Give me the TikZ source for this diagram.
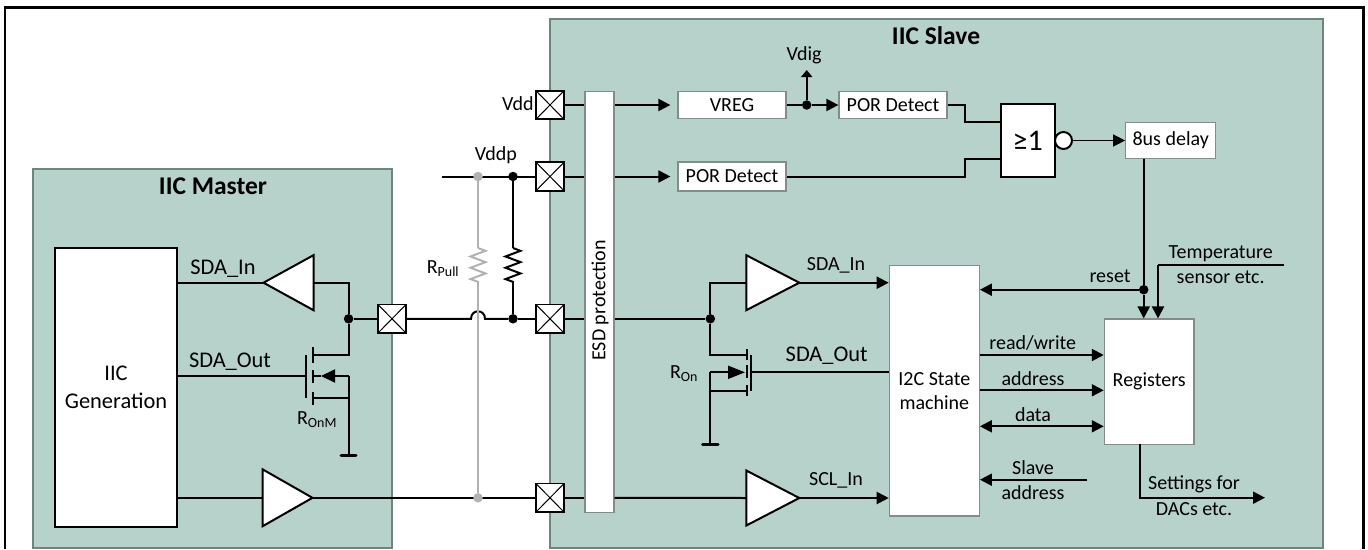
\documentclass[tikz,border=0pt]{standalone}
\usepackage{fontspec}
\setmainfont{Carlito}
\usetikzlibrary{
  arrows.meta,
  shapes.geometric,
  decorations.pathmorphing,
}
\definecolor{chipfill}{RGB}{183,210,202}
\definecolor{chipedge}{RGB}{112,132,126}
\definecolor{boxedge}{RGB}{130,140,137}
\definecolor{pullgrey}{RGB}{178,178,178}
\tikzset{
  wire/.style={line width=2pt, black},
  thinwire/.style={line width=1.6pt, black},
  sigarrow/.style={wire, -{Triangle[length=12pt,width=12pt]}},
  dualarrow/.style={wire, {Triangle[length=12pt,width=12pt]}-{Triangle[length=12pt,width=12pt]}},
  chipbox/.style={rectangle, draw=chipedge, fill=chipfill, line width=1.2pt, inner sep=0pt},
  whitebox/.style={rectangle, draw=boxedge, fill=white, line width=1.2pt, inner sep=0pt, align=center, font=\fontsize{20}{24}\selectfont},
  blackbox/.style={rectangle, draw=black, fill=white, line width=2pt, inner sep=0pt, align=center},
  padbox/.style={
    rectangle, draw=black, fill=white, line width=1.6pt,
    minimum width=28pt, minimum height=28.5pt, inner sep=0pt,
    path picture={
      \draw[line width=1pt]
        (path picture bounding box.north west) -- (path picture bounding box.south east)
        (path picture bounding box.north east) -- (path picture bounding box.south west);
    }
  },
  bufright/.style={
    isosceles triangle, isosceles triangle stretches, draw=black, fill=white,
    line width=2pt, inner sep=0pt, outer sep=0pt, anchor=apex,
    minimum height=53pt, minimum width=55pt
  },
  bufleft/.style={bufright, shape border rotate=180},
  joint/.style={circle, fill=black, inner sep=0pt, minimum size=9.5pt},
  greyjoint/.style={circle, fill=pullgrey, inner sep=0pt, minimum size=9.5pt},
  resistor/.style={decorate, decoration={zigzag, amplitude=7.5pt, segment length=11.3pt}},
  lab/.style={inner sep=0pt, font=\fontsize{20}{24}\selectfont, align=center},
  biglab/.style={inner sep=0pt, font=\fontsize{22.4}{27}\selectfont, align=center},
  titlelab/.style={inner sep=0pt, font=\bfseries\fontsize{25.5}{30}\selectfont},
}
\begin{document}
\begin{tikzpicture}[x=1pt, y=-1pt]
  \useasboundingbox (0,0) rectangle (1368,549);

  % ── Frame and panels ──
  \draw[line width=2.6pt] (5,549) -- (5,7.5) -- (1363.5,7.5) -- (1363.5,549);
  \node[chipbox, minimum width=359pt, minimum height=379pt] (master) at (212.5,358.5) {};
  \node[chipbox, minimum width=773pt, minimum height=529pt] (slave) at (936.5,283.5) {};
  \node[titlelab] (masterTitle) at (213,186) {IIC Master};
  \node[titlelab] (slaveTitle) at (936,36) {IIC Slave};

  % ── Master blocks ──
  \node[blackbox, minimum width=122pt, minimum height=279.5pt, biglab] (gen) at (116,387.3) {IIC\\[1pt]Generation};
  \node[bufleft, minimum height=50pt]  (bufMasterIn)  at (263.5,282.7) {};
  \node[bufright, minimum height=50pt, minimum width=57pt] (bufMasterClk) at (312.5,497.8) {};
  \node[joint] (jointMaster) at (348.6,318.8) {};

  % ── Pads ──
  \node[padbox] (padMaster) at (392,318.8) {};
  \node[padbox] (padVdd)    at (550,105) {};
  \node[padbox] (padVddp)   at (550,176.5) {};
  \node[padbox] (padSda)    at (550,318.8) {};
  \node[padbox] (padClk)    at (550,497.8) {};

  % ── Slave blocks ──
  \node[whitebox, minimum width=29pt, minimum height=421.5pt] (esd) at (599.5,302) {};
  \node[lab, rotate=90] (esdText) at (600,300.5) {ESD protection};
  \node[whitebox, minimum width=108pt, minimum height=27.5pt] (vreg) at (732,105) {VREG};
  \node[whitebox, minimum width=108pt, minimum height=27.5pt] (porA) at (893,105) {POR Detect};
  \node[whitebox, minimum width=108pt, minimum height=29pt]   (porB) at (732,176.5) {POR Detect};
  \node[blackbox, minimum width=54pt, minimum height=72.5pt, font=\fontsize{30}{36}\selectfont] (orGate) at (1027.7,140.5) {≥1};
  \node[circle, draw=black, fill=white, line width=2pt, minimum size=17pt, inner sep=0pt] (orBubble) at (1063.5,140.5) {};
  \node[whitebox, minimum width=90pt, minimum height=36.5pt] (delay) at (1170.7,140.5) {8us delay};
  \node[whitebox, minimum width=90pt, minimum height=250.7pt] (fsm) at (934.3,390.7) {I2C State\\machine};
  \node[whitebox, minimum width=89.7pt, minimum height=125.3pt] (regs) at (1149.2,381.7) {Registers};
  \node[bufright] (bufSlaveIn)  at (799.3,282.7) {};
  \node[bufright] (bufSlaveClk) at (799.3,498) {};
  \node[joint] (jointVreg)  at (806.7,105) {};
  \node[joint] (jointSlave) at (710.3,318.8) {};
  \node[joint] (jointReset) at (1143.7,289.7) {};
  \node[joint] (jointVddp)  at (513,176.5) {};
  \node[joint] (jointPull)  at (513,318.8) {};

  % ── Supply and pull-up ──
  \coordinate (vddpEnd) at (442,176.5);
  \coordinate (pullGreyA) at (478,248);
  \coordinate (pullGreyB) at (478,282);
  \coordinate (pullBlackA) at (513,248);
  \coordinate (pullBlackB) at (513,282);
  \coordinate (hopA) at (471,318.8);
  \coordinate (hopB) at (485,318.8);
  \coordinate (vdigEnd) at (806.7,70);
  \draw[wire] (vddpEnd) -- (padVddp);
  \draw[wire] (jointVddp) -- (pullBlackA);
  \draw[wire, resistor] (pullBlackA) -- (pullBlackB);
  \draw[wire] (pullBlackB) -- (jointPull);
  \draw[wire] (padMaster) -- (hopA) .. controls +(0,-10) and +(0,-10) .. (hopB) -- (jointPull);
  \draw[wire] (jointPull) -- (padSda);
  \draw[wire] (gen.east |- bufMasterClk.apex) -- (bufMasterClk.lower side);
  \draw[wire] (bufMasterClk.apex) -- (padClk);
  \node[greyjoint] (greyTop) at (478,176.5) {};
  \node[greyjoint] (greyBot) at (478,497.8) {};
  \draw[wire, pullgrey] (greyTop) -- (pullGreyA);
  \draw[wire, pullgrey, resistor] (pullGreyA) -- (pullGreyB);
  \draw[wire, pullgrey] (pullGreyB) -- (greyBot);

  % ── Master connections ──
  \coordinate (mDrain) at (313,355);
  \coordinate (mSource) at (313,376);
  \coordinate (mBody) at (313,398);
  \coordinate (mGate) at (306,376);
  \coordinate (mGnd) at (348.6,455);
  \coordinate (mTip) at (321,376);
  \draw[wire] (gen.east |- bufMasterIn.apex) -- (bufMasterIn.apex);
  \draw[wire] (bufMasterIn.lower side) -| (jointMaster);
  \draw[wire] (jointMaster) -- (padMaster);
  \draw[wire] (jointMaster) |- (mDrain);
  \draw[wire] (gen.east |- mGate) -- (mGate);
  \draw[wire] (306,355) -- (306,398);
  \draw[wire] (313,347) -- (313,363);
  \draw[wire] (313,370) -- (313,383);
  \draw[wire] (313,392) -- (313,405);
  \draw[wire] (mGnd) -- (mGnd |- mSource);
  \draw[wire, -{Triangle[length=14pt,width=13pt]}] (mGnd |- mSource) -- (mTip);
  \draw[wire] (mTip) -- (mSource);
  \draw[wire] (mGnd |- mBody) -- (mBody);
  \draw[line width=3pt, line cap=round] (341,455) -- (356,455);

  % ── Slave front end ──
  \coordinate (sDrain) at (746.7,355);
  \coordinate (sSource) at (745,372.3);
  \coordinate (sBody) at (746.7,390.7);
  \coordinate (sGate) at (751.3,372.3);
  \coordinate (sGnd) at (710.3,444.3);
  \draw[wire] (padVdd) -- (esd.west |- padVdd);
  \draw[wire] (padVddp) -- (esd.west |- padVddp);
  \draw[wire] (padSda) -- (esd.west |- padSda);
  \draw[wire] (padClk) -- (esd.west |- padClk);
  \draw[sigarrow, shorten >=7pt] (esd.east |- vreg) -- (vreg);
  \draw[sigarrow, shorten >=7pt] (esd.east |- porB) -- (porB);
  \draw[wire] (esd.east |- padSda) -- (jointSlave);
  \draw[wire] (jointSlave) |- (bufSlaveIn.lower side);
  \draw[wire] (jointSlave) |- (sDrain);
  \draw[wire] (esd.east |- padClk) -- (bufSlaveClk.lower side);
  \draw[wire] (746.7,349.3) -- (746.7,360);
  \draw[wire] (746.7,365) -- (746.7,378);
  \draw[wire] (746.7,385) -- (746.7,395.7);
  \draw[wire] (751.3,355) -- (751.3,390.7);
  \draw[wire] (fsm.west |- sGate) -- (sGate);
  \draw[wire] (sGnd) -- (sGnd |- sSource);
  \draw[wire, -{Triangle[length=17pt,width=13pt]}] (sGnd |- sSource) -- (sSource);
  \draw[wire] (sGnd |- sBody) -- (sBody);
  \draw[line width=3pt, line cap=round] (702.5,444.3) -- (718,444.3);
  \draw[sigarrow] (bufSlaveIn.apex) -- (fsm.west |- bufSlaveIn.apex);
  \draw[sigarrow] (bufSlaveClk.apex) -- (fsm.west |- bufSlaveClk.apex);

  % ── Power-on logic ──
  \coordinate (kneeA) at (965,122.3);
  \coordinate (kneeB) at (965,158.5);
  \draw[wire] (vreg) -- (jointVreg);
  \draw[sigarrow] (jointVreg) -- (porA);
  \draw[wire, -{Triangle[length=7pt,width=11pt]}] (jointVreg) -- (vdigEnd);
  \draw[wire] (porA.east) -| (kneeA) -- (orGate.west |- kneeA);
  \draw[wire] (porB.east) -| (kneeB) -- (orGate.west |- kneeB);
  \draw[thinwire, -{Triangle[length=12pt,width=12pt]}] (orBubble) -- (delay);

  % ── Register side ──
  \coordinate (tempEnd) at (1284,265.3);
  \coordinate (tempKnee) at (1158,265.3);
  \coordinate (slaveEnd) at (1087.3,479.7);
  \coordinate (settingsEnd) at (1265,497.7);
  \coordinate (settingsTop) at (1140,444.3);
  \draw[wire] (delay.south -| jointReset) -- (jointReset);
  \draw[sigarrow] (jointReset) -- (jointReset |- regs.north);
  \draw[sigarrow] (jointReset) -- (fsm.east |- jointReset);
  \draw[wire] (tempEnd) -- (tempKnee);
  \draw[sigarrow] (tempKnee) -- (tempKnee |- regs.north);
  \draw[sigarrow] (fsm.east |- 0,355) -- (regs.west |- 0,355);
  \draw[sigarrow] (fsm.east |- 0,390.3) -- (regs.west |- 0,390.3);
  \draw[dualarrow] (fsm.east |- 0,426.3) -- (regs.west |- 0,426.3);
  \draw[sigarrow] (slaveEnd) -- (fsm.east |- slaveEnd);
  \draw[sigarrow] (settingsTop) |- (settingsEnd);

  % ── Labels ──
  \node[biglab] (lbMasterIn)  at (223,269) {SDA\_In};
  \node[biglab] (lbMasterOut) at (230,362) {SDA\_Out};
  \node[lab] (lbRonm)  at (317,420) {R\textsubscript{OnM}};
  \node[lab] (lbPull)  at (443,269) {R\textsubscript{Pull}};
  \node[lab] (lbVddp)  at (496,155) {Vddp};
  \node[lab] (lbVdd)   at (518,104) {Vdd};
  \node[lab] (lbVdig)  at (804,55) {Vdig};
  \node[lab] (lbSlaveIn)  at (836,265.7) {SDA\_In};
  \node[biglab] (lbSlaveOut) at (826.7,355.7) {SDA\_Out};
  \node[lab] (lbRon)   at (684,374) {R\textsubscript{On}};
  \node[lab] (lbClk)   at (836,480) {SCL\_In};
  \node[lab] (lbReset) at (1110,276) {reset};
  \node[lab] (lbTempA) at (1220.7,253.3) {Temperature};
  \node[lab] (lbTempB) at (1220.7,277.7) {sensor etc.};
  \node[lab] (lbRw)    at (1032.7,343) {read/write};
  \node[lab] (lbAddr)  at (1033,378.7) {address};
  \node[lab] (lbData)  at (1033,414.3) {data};
  \node[lab] (lbSlaveA) at (1033,467.7) {Slave};
  \node[lab] (lbSlaveB) at (1033,492.3) {address};
  \node[lab] (lbSetA)  at (1194,484) {Settings for};
  \node[lab] (lbSetB)  at (1194,509.3) {DACs etc.};

\end{tikzpicture}
\end{document}
